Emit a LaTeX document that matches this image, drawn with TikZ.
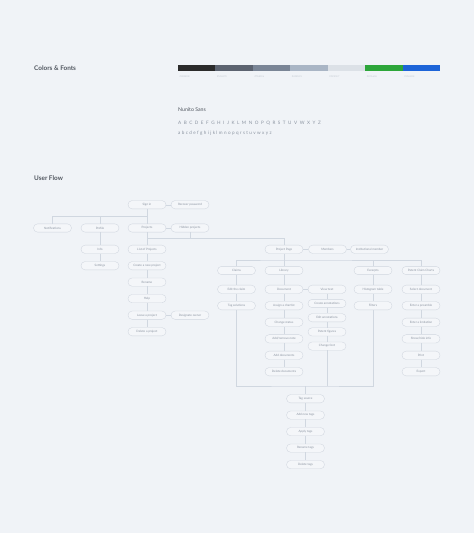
\documentclass[tikz,border=0pt]{standalone}
\usepackage{fontspec}
\setmainfont{Lato}

\definecolor{pagebg}{HTML}{F0F3F7}
\definecolor{headtext}{HTML}{50565F}
\definecolor{softtext}{HTML}{8A93A0}
\definecolor{pillfill}{HTML}{F4F6F9}
\definecolor{pillline}{HTML}{D0D6DF}
\definecolor{flowline}{HTML}{D0D7E0}
\definecolor{swatchA}{HTML}{2B2B2B}
\definecolor{swatchB}{HTML}{5C6370}
\definecolor{swatchC}{HTML}{7A8596}
\definecolor{swatchD}{HTML}{A9B5C5}
\definecolor{swatchE}{HTML}{DCE1E7}
\definecolor{swatchF}{HTML}{2DA63A}
\definecolor{swatchG}{HTML}{1D64D8}

\tikzset{
  pill/.style={draw=pillline, fill=pillfill, line width=0.35pt,
    rounded corners=4.1pt, minimum width=38pt, minimum height=8.3pt,
    inner sep=0pt, text=softtext, font=\fontsize{3}{3.5}\selectfont},
  flow/.style={draw=flowline, line width=0.4pt},
  heading/.style={anchor=west, inner sep=0pt, text=headtext,
    font=\fontsize{6.4}{7.5}\selectfont\bfseries},
  hexlabel/.style={anchor=west, inner sep=0pt, text=swatchE!70!softtext,
    font=\fontsize{2.3}{2.7}\selectfont},
}

\begin{document}
\begin{tikzpicture}[x=1pt,y=-1pt]

\fill[pagebg] (0,0) rectangle (474,533);
\useasboundingbox (0,0) rectangle (474,533);

% colours and fonts
\node[heading] (ColorsFonts) at (34,68) {Colors \& Fonts};
\foreach \swatch/\hex [count=\i from 0] in {swatchA/\#2B2B2B, swatchB/\#5C6370,
    swatchC/\#7A8596, swatchD/\#A9B5C5, swatchE/\#DCE1E7, swatchF/\#2DA63A,
    swatchG/\#1D64D8} {
  \fill[\swatch] (178+37.43*\i,65.3) rectangle (178+37.43*\i+37.43,71);
  \node[hexlabel] at (179.5+37.43*\i,77) {\hex};
}

\node[anchor=west, inner sep=0pt, text=headtext,
  font=\fontsize{5.2}{6}\selectfont] (FontName) at (178,110) {Nunito Sans};
\node[anchor=west, inner sep=0pt, text=softtext,
  font=\fontsize{4.6}{5}\selectfont\addfontfeatures{LetterSpace=55}]
  (Upper) at (178,123.5) {ABCDEFGHIJKLMNOPQRSTUVWXYZ};
\node[anchor=west, inner sep=0pt, text=softtext,
  font=\fontsize{4.6}{5}\selectfont\addfontfeatures{LetterSpace=30}]
  (Lower) at (178,133.5) {abcdefghijklmnopqrstuvwxyz};

% user flow
\node[heading] (UserFlow) at (34,178.3) {User Flow};

\node[pill] (SignIn) at (147,204.7) {Sign in};
\node[pill] (RecoverPassword) at (190,204.7) {Recover password};
\node[pill] (Notifications) at (52.5,228) {Notifications};
\node[pill] (Profile) at (100,228) {Profile};
\node[pill] (Projects) at (147,228) {Projects};
\node[pill] (HiddenProjects) at (190,228) {Hidden projects};
\node[pill] (Info) at (100,249.3) {Info};
\node[pill] (Settings) at (100,265.7) {Settings};
\node[pill] (ListProjects) at (147,249.3) {List of Projects};
\node[pill] (CreateProject) at (147,265.7) {Create a new project};
\node[pill] (Rename) at (147,282.1) {Rename};
\node[pill] (Help) at (147,298.6) {Help};
\node[pill] (LeaveProject) at (147,315.2) {Leave a project};
\node[pill] (DesignateOwner) at (190,315.2) {Designate owner};
\node[pill] (DeleteProject) at (147,331.7) {Delete a project};

\node[pill] (ProjectPage) at (284,249.3) {Project Page};
\node[pill] (Members) at (327.5,249.3) {Members};
\node[pill] (InstitutionalMember) at (369.5,249.3) {Institutional member};

\node[pill] (Claims) at (236.5,270.5) {Claims};
\node[pill] (EditClaim) at (236.5,289.3) {Edit the claim};
\node[pill] (TagSolutions) at (236.5,305.7) {Tag solutions};

\node[pill] (Library) at (284,270.5) {Library};
\node[pill] (Document) at (284,289.3) {Document};
\node[pill] (AssignChart) at (284,305.7) {Assign a chartist};
\node[pill] (ChangeStatus) at (284,322.3) {Change status};
\node[pill] (AddRemoveNote) at (284,338.8) {Add/remove note};
\node[pill] (AddDocuments) at (284,355.3) {Add documents};
\node[pill] (DeleteDocuments) at (284,371.7) {Delete documents};

\node[pill] (ViewText) at (327,289.3) {View text};
\node[pill] (CreateAnnotations) at (327,303.5) {Create annotations};
\node[pill] (EditAnnotations) at (327,317.7) {Edit annotations};
\node[pill] (PatentFigures) at (327,331.9) {Patent figures};
\node[pill] (ChangeFont) at (327,346.1) {Change font};

\node[pill] (Excerpts) at (373,270.5) {Excerpts};
\node[pill] (HistogramTable) at (373,289.3) {Histogram table};
\node[pill] (Filters) at (373,305.7) {Filters};

\node[pill] (ClaimCharts) at (421,270.5) {Patent Claim Charts};
\node[pill] (SelectDocument) at (421,289.3) {Select document};
\node[pill] (EnterPreamble) at (421,305.7) {Enter a preamble};
\node[pill] (EnterLimitation) at (421,322.3) {Enter a limitation};
\node[pill] (ShowHideInfo) at (421,338.8) {Show/hide info};
\node[pill] (Print) at (421,355.3) {Print};
\node[pill] (Export) at (421,371.7) {Export};

\node[pill] (TagSource) at (305.5,398.7) {Tag source};
\node[pill] (AddNewTags) at (305.5,415.1) {Add new tags};
\node[pill] (ApplyTags) at (305.5,431.6) {Apply tags};
\node[pill] (RenameTags) at (305.5,448.1) {Rename tags};
\node[pill] (DeleteTags) at (305.5,464.6) {Delete tags};

\coordinate (TopSplit) at (147,216);
\coordinate (PageJoin) at (147,238);
\coordinate (HiddenJoin) at (190,238);
\coordinate (PageSplit) at (284,260);
\coordinate (BoxBottom) at (305.5,386);

\draw[flow] (SignIn) -- (RecoverPassword);
\draw[flow] (SignIn) -- (Projects);
\draw[flow] (Notifications.north) |- (TopSplit);
\draw[flow] (Profile.north) -- (Profile.north |- TopSplit);
\draw[flow] (Projects) -- (HiddenProjects);
\draw[flow] (HiddenProjects) -- (HiddenJoin);
\draw[flow] (Profile) -- (Info) -- (Settings);
\draw[flow] (Projects) -- (ListProjects) -- (CreateProject) -- (Rename)
  -- (Help) -- (LeaveProject) -- (DeleteProject);
\draw[flow] (LeaveProject) -- (DesignateOwner);
\draw[flow] (PageJoin) -| (ProjectPage.north);

\draw[flow] (ProjectPage) -- (Members) -- (InstitutionalMember);
\draw[flow] (ProjectPage) -- (Library);
\draw[flow] (Claims.north) |- (PageSplit) -| (ClaimCharts.north);
\draw[flow] (Excerpts.north) -- (Excerpts.north |- PageSplit);

\draw[flow] (Claims) -- (EditClaim) -- (TagSolutions);
\draw[flow] (TagSolutions) |- (BoxBottom) -| (Filters);
\draw[flow] (Library) -- (Document) -- (AssignChart) -- (ChangeStatus)
  -- (AddRemoveNote) -- (AddDocuments) -- (DeleteDocuments);
\draw[flow] (Document) -- (ViewText);
\draw[flow] (ViewText) -- (CreateAnnotations) -- (EditAnnotations)
  -- (PatentFigures) -- (ChangeFont);
\draw[flow] (ChangeFont) -- (ChangeFont |- BoxBottom);
\draw[flow] (Excerpts) -- (HistogramTable) -- (Filters);
\draw[flow] (ClaimCharts) -- (SelectDocument) -- (EnterPreamble)
  -- (EnterLimitation) -- (ShowHideInfo) -- (Print) -- (Export);

\draw[flow] (BoxBottom) -- (TagSource) -- (AddNewTags) -- (ApplyTags)
  -- (RenameTags) -- (DeleteTags);

\end{tikzpicture}
\end{document}
